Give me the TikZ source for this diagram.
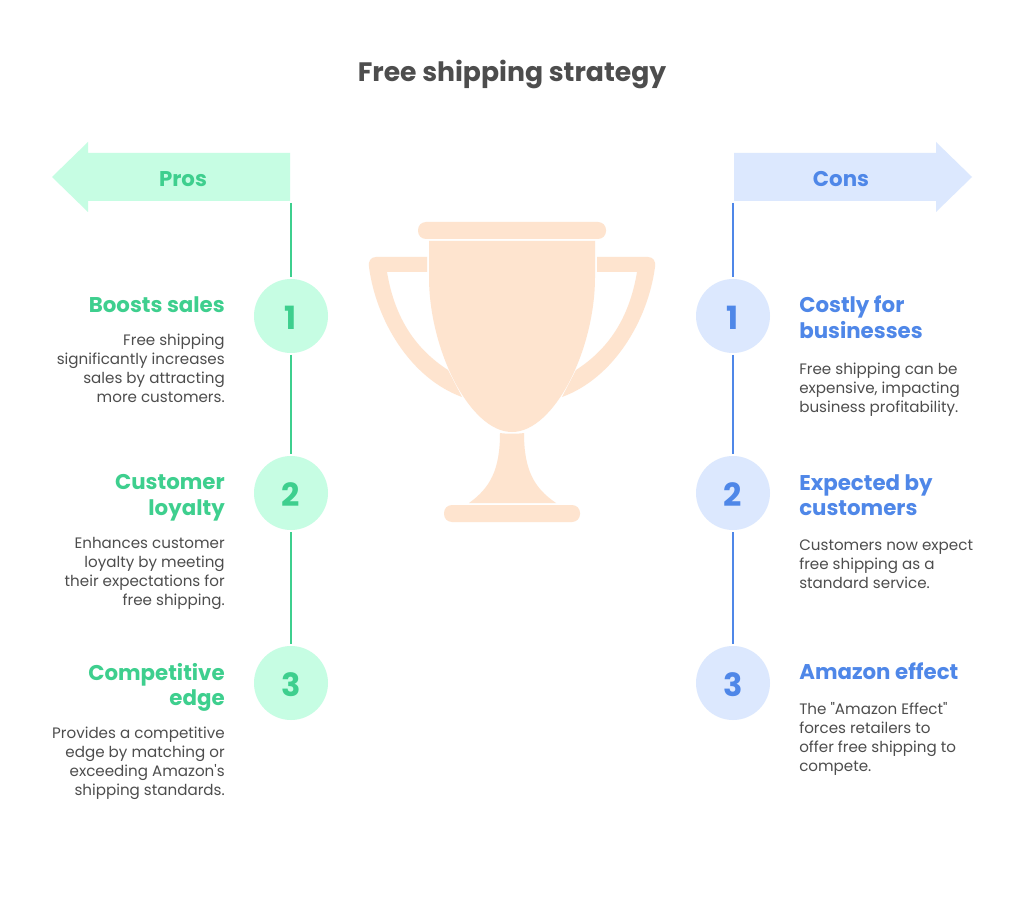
\documentclass[tikz,border=0pt]{standalone}
\usepackage{fontspec}
\setmainfont[Ligatures=TeXOff]{Poppins}
\definecolor{mintfill}{HTML}{C6FDE3}
\definecolor{mintline}{HTML}{3ECF8E}
\definecolor{bluefill}{HTML}{DCE8FE}
\definecolor{blueline}{HTML}{4F87E8}
\definecolor{cupfill}{HTML}{FEE4CF}
\definecolor{bodytext}{HTML}{4D4D4D}
\tikzset{
    badge/.style={circle,minimum size=55.5pt,inner sep=0pt,outer sep=1.5pt,text height=20pt,text depth=0.3pt,font=\fontsize{24}{24}\selectfont\bfseries},
    heading/.style={inner sep=0pt,font=\fontsize{16}{19.2}\selectfont\bfseries},
    blurb/.style={inner sep=0pt,text=bodytext,font=\fontsize{11.35}{14.25}\selectfont},
    side/.style={inner sep=0pt,font=\fontsize{16}{16}\selectfont\bfseries},
    stem/.style={line width=2.2pt}
}
\begin{document}
\begin{tikzpicture}[x=0.75pt,y=-0.75pt]
    \useasboundingbox (0,0) rectangle (1024,898);
    \fill[white] (0,0) rectangle (1024,898);

    \node[text=bodytext,inner sep=0pt,font=\fontsize{20}{20}\selectfont\bfseries] (title) at (512,74) {Free shipping strategy};

    % arrows
    \fill[mintfill] (290,153) -- (88,153) -- (88,142) -- (52,177) -- (88,212) -- (88,201) -- (290,201) -- cycle;
    \fill[bluefill] (734,153) -- (936,153) -- (936,142) -- (972,177) -- (936,212) -- (936,201) -- (734,201) -- cycle;
    \node[side,text=mintline] (pros) at (183,179) {Pros};
    \node[side,text=blueline] (cons) at (841,179) {Cons};
    \coordinate (prosfoot) at (291,203);
    \coordinate (consfoot) at (733,203);

    % left column
    \node[badge,fill=mintfill,text=mintline] (pro1) at (291,316) {1};
    \node[badge,fill=mintfill,text=mintline] (pro2) at (291,493) {2};
    \node[badge,fill=mintfill,text=mintline] (pro3) at (291,683) {3};
    \draw[stem,mintline] (prosfoot) -- (pro1);
    \draw[stem,mintline] (pro1) -- (pro2);
    \draw[stem,mintline] (pro2) -- (pro3);

    \node[heading,text=mintline,align=right,anchor=north east] (prohead1) at (225,296) {Boosts sales};
    \node[blurb,align=right,anchor=north east] (problurb1) at (225,334) {Free shipping\\significantly increases\\sales by attracting\\more customers.};
    \node[heading,text=mintline,align=right,anchor=north east] (prohead2) at (225,474) {Customer\\loyalty};
    \node[blurb,align=right,anchor=north east] (problurb2) at (225,537) {Enhances customer\\loyalty by meeting\\their expectations for\\free shipping.};
    \node[heading,text=mintline,align=right,anchor=north east] (prohead3) at (225,663) {Competitive\\edge};
    \node[blurb,align=right,anchor=north east] (problurb3) at (225,727) {Provides a competitive\\edge by matching or\\exceeding Amazon's\\shipping standards.};

    % right column
    \node[badge,fill=bluefill,text=blueline] (con1) at (733,316) {1};
    \node[badge,fill=bluefill,text=blueline] (con2) at (733,493) {2};
    \node[badge,fill=bluefill,text=blueline] (con3) at (733,683) {3};
    \draw[stem,blueline] (consfoot) -- (con1);
    \draw[stem,blueline] (con1) -- (con2);
    \draw[stem,blueline] (con2) -- (con3);

    \node[heading,text=blueline,align=left,anchor=north west] (conhead1) at (799,296) {Costly for\\businesses};
    \node[blurb,align=left,anchor=north west] (conblurb1) at (799,363) {Free shipping can be\\expensive, impacting\\business profitability.};
    \node[heading,text=blueline,align=left,anchor=north west] (conhead2) at (799,474) {Expected by\\customers};
    \node[blurb,align=left,anchor=north west] (conblurb2) at (799,540) {Customers now expect\\free shipping as a\\standard service.};
    \node[heading,text=blueline,align=left,anchor=north west] (conhead3) at (799,663) {Amazon effect};
    \node[blurb,align=left,anchor=north west] (conblurb3) at (799,702) {The "Amazon Effect"\\forces retailers to\\offer free shipping to\\compete.};

    % trophy
    \fill[cupfill,rounded corners=6pt] (418,222) rectangle (606,239);
    \fill[cupfill] (429,241) -- (595,241) -- (595,277) .. controls (595,350) and (554,432) .. (512,432) .. controls (470,432) and (429,350) .. (429,277) -- cycle;
    \fill[cupfill] (500,433) .. controls (506,434) and (518,434) .. (524,433) .. controls (524,470) and (534,488) .. (556,503) -- (469,503) .. controls (490,488) and (500,470) .. (500,433) -- cycle;
    \fill[cupfill,rounded corners=6pt] (444,505) rectangle (580,522);
    \fill[cupfill] (427,257) -- (376,257) .. controls (371,257) and (368,261) .. (369,267) .. controls (376,320) and (410,378) .. (462,397) -- (448,370) .. controls (417,350) and (395,320) .. (387,272) -- (427,272) -- cycle;
    \fill[cupfill] (597,257) -- (648,257) .. controls (653,257) and (656,261) .. (655,267) .. controls (648,320) and (614,378) .. (562,397) -- (576,370) .. controls (607,350) and (629,320) .. (637,272) -- (597,272) -- cycle;
\end{tikzpicture}
\end{document}
